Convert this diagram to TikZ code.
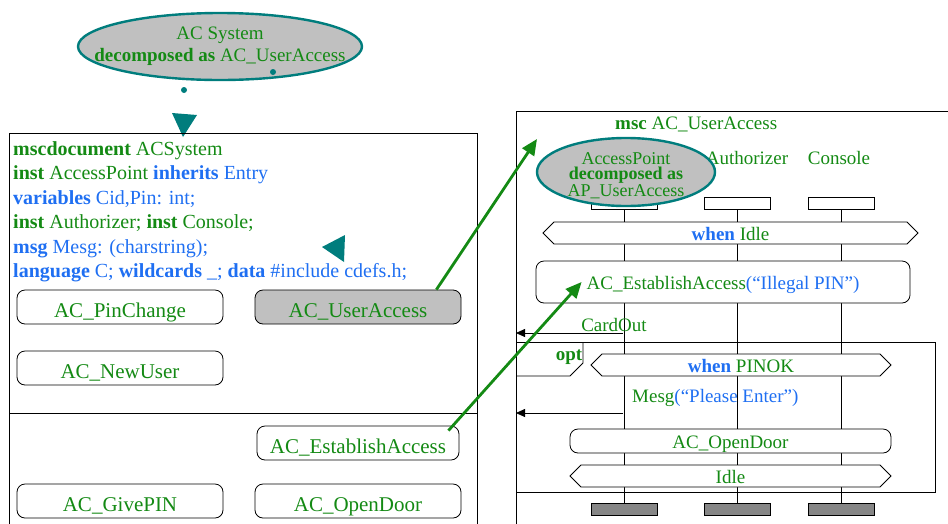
\documentclass[tikz,border=0pt]{standalone}
\usepackage{fontspec}
\setmainfont{Liberation Serif}
\usetikzlibrary{arrows.meta,positioning,calc,shapes.geometric,shapes.symbols,backgrounds}
\definecolor{MscGreen}{HTML}{148A14}
\definecolor{MscBlue}{HTML}{1F6FF2}
\definecolor{Teal}{HTML}{007D7D}
\definecolor{LightGrey}{HTML}{C0C0C0}
\definecolor{DarkGrey}{HTML}{868686}
\newcommand{\bl}[1]{{\color{MscBlue}#1}}

\begin{document}
\begin{tikzpicture}[
  x=1pt,y=-1pt,
  every node/.style={inner sep=0pt,text=MscGreen},
  decomp/.style={ellipse,draw=Teal,line width=2.4pt,fill=LightGrey},
  refbox/.style={draw,rounded corners=8pt,fill=white,line width=0.8pt,minimum width=206pt,minimum height=34pt,text height=20pt,text depth=0pt,font=\fontsize{21}{24}\selectfont},
  codeline/.style={anchor=base west,font=\fontsize{20}{24}\selectfont},
  msclabel/.style={font=\fontsize{19}{22}\selectfont},
  inst/.style={draw,fill=white,line width=0.8pt,minimum width=66pt,minimum height=12pt},
  instend/.style={inst,fill=DarkGrey},
  cond/.style={signal,signal to=east and west,draw,fill=white,line width=0.8pt,minimum height=22pt,text height=14.5pt,text depth=0pt,font=\fontsize{19}{22}\selectfont},
  mscref/.style={draw,rounded corners=8pt,fill=white,line width=0.8pt,text height=14pt,text depth=0pt,font=\fontsize{19}{22}\selectfont},
  msg/.style={line width=0.8pt,-{Triangle[length=9pt,width=8pt]}},
  link/.style={MscGreen,line width=2.8pt,-{Triangle[length=16pt,width=14pt]}}
]
\useasboundingbox (0,0) rectangle (948,523);
\clip (0,0) rectangle (948,523);

% decomposition of the system
\node[decomp,minimum width=284pt,minimum height=67pt] (sys) at (220,46.5) {};
\node[align=center,font=\fontsize{19}{22}\selectfont] (systxt) at (sys.center) {AC System\\\textbf{decomposed as} AC\_UserAccess};
\fill[Teal] (273,72) circle (3pt) (184,90) circle (3pt);
\fill[Teal] (172,113) -- (197,115) -- (183,137) -- cycle;

% mscdocument
\draw[line width=0.8pt] (9,133) rectangle (477,540);
\draw[line width=0.8pt] (9,413) -- (477,413);
\foreach \txt [count=\i] in {
  {\textbf{mscdocument} ACSystem},
  {\textbf{inst} AccessPoint \bl{\textbf{inherits} Entry}},
  {\bl{\textbf{variables} Cid,Pin: int;}},
  {\textbf{inst} Authorizer; \textbf{inst} Console;},
  {\bl{\textbf{msg} Mesg: (charstring);}},
  {\bl{\textbf{language} C; \textbf{wildcards} \_; \textbf{data} \#include cdefs.h;}}}
  \node[codeline] (code\i) at (13,{131+24.4*\i}) {\txt};
\fill[Teal] (322,247) -- (345,235) -- (344,262) -- cycle;

\node[refbox] (pin) at (120,307) {AC\_PinChange};
\node[refbox,fill=LightGrey] (ua) at (358,307) {AC\_UserAccess};
\node[refbox] (nu) at (120,368) {AC\_NewUser};
\node[refbox,minimum width=202pt] (ea) at (358,443) {AC\_EstablishAccess};
\node[refbox] (gp) at (120,501) {AC\_GivePIN};
\node[refbox] (od) at (358,501) {AC\_OpenDoor};

% msc AC_UserAccess
\draw[line width=0.8pt] (516,111) rectangle (960,540);
\node[msclabel,anchor=base west] (msctitle) at (615,129.5) {\textbf{msc} AC\_UserAccess};
\node[msclabel,anchor=base] (lAU) at (747,164) {Authorizer};
\node[msclabel,anchor=base] (lCO) at (839,164) {Console};
\node[inst] (hAP) at (624,203) {};
\node[inst] (hAU) at (737,203) {};
\node[inst] (hCO) at (841.5,203) {};
\node[decomp,minimum width=178pt,minimum height=68pt] (apdec) at (626,172) {};
\node[align=center,font=\fontsize{18}{15.5}\selectfont] (apdectxt) at ([yshift=-3.5pt]apdec.center) {AccessPoint\\\textbf{decomposed as}\\AP\_UserAccess};
\node[instend] (eAP) at (624,509.5) {};
\node[instend] (eAU) at (737,509.5) {};
\node[instend] (eCO) at (841.5,509.5) {};
\begin{scope}[on background layer]
  \foreach \n in {AP,AU,CO}
    \draw[line width=0.8pt] (h\n) -- (e\n);
\end{scope}

\node[cond,minimum width=375pt] (wIdle) at (730.5,233) {\bl{\textbf{when}} Idle};
\node[mscref,minimum width=374pt,minimum height=42pt] (eaMsc) at (723,282) {AC\_EstablishAccess\bl{(“Illegal PIN”)}};

\coordinate (cardAP) at (623,333);
\coordinate (envCard) at (516,333);
\draw[msg] (cardAP) -- (envCard);
\node[msclabel,anchor=base] (cardLbl) at (614,331.7) {CardOut};

% opt frame
\draw[line width=0.8pt] (516,342) rectangle (935,492);
\draw[line width=0.8pt] (583,342) -- (583,363) -- (570,376) -- (516,376);
\node[msclabel,anchor=base,font=\fontsize{19}{22}\selectfont\bfseries] (optLbl) at (569,360) {opt};
\node[cond,minimum width=300pt] (wPin) at (741,365) {\bl{\textbf{when}} PINOK};
\node[msclabel,anchor=base west] (mesgLbl) at (632,402.7) {Mesg\bl{(“Please Enter”)}};
\coordinate (mesgAP) at (623,413);
\coordinate (envMesg) at (516,413);
\draw[msg] (mesgAP) -- (envMesg);
\node[mscref,minimum width=321pt,minimum height=24pt] (odMsc) at (730.5,441) {AC\_OpenDoor};
\node[cond,minimum width=321pt] (idle) at (730.5,476) {Idle};

% references into the msc
\coordinate (mscIn) at (537,139);
\draw[link] ([xshift=-25pt]ua.north east) -- (mscIn);
\draw[link] ([xshift=-11pt,yshift=-5pt]ea.north east) -- ([xshift=46pt]eaMsc.west);
\end{tikzpicture}
\end{document}
